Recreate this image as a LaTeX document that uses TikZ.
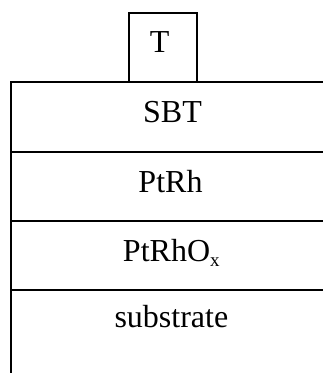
\documentclass[tikz,border=0pt]{standalone}
\usepackage{fontspec}
\setmainfont{Liberation Serif}
\begin{document}
\begin{tikzpicture}[x=1pt,y=-1pt,
  rule/.style={line width=1.8pt, line join=miter},
  layername/.style={inner sep=0pt, anchor=base, font=\fontsize{32}{36}\selectfont}]
  \useasboundingbox (0,0) rectangle (323,373);
  \clip (0,0) rectangle (323,373);

  % corners of the stack (it runs on past the right and bottom edges)
  \coordinate (stackTL) at (11,82);
  \coordinate (stackBL) at (11,380);
  \coordinate (stackTR) at (330,82);
  \coordinate (b1L) at (11,152);   \coordinate (b1R) at (330,152);
  \coordinate (b2L) at (11,221);   \coordinate (b2R) at (330,221);
  \coordinate (b3L) at (11,290);   \coordinate (b3R) at (330,290);

  % top electrode
  \coordinate (tBL) at (129,82);
  \coordinate (tTL) at (129,12.7);
  \coordinate (tTR) at (196.7,12.7);
  \coordinate (tBR) at (196.7,82);

  % outline of the layer stack
  \draw[rule] (stackTR) -- (stackTL) -- (stackBL);
  \draw[rule] (b1L) -- (b1R);
  \draw[rule] (b2L) -- (b2R);
  \draw[rule] (b3L) -- (b3R);
  \draw[rule] (tBL) -- (tTL) -- (tTR) -- (tBR);

  % labels
  \node[layername] (lblT) at (159.6,52.3) {T};
  \node[layername] (lblSBT) at (172.5,122.3) {SBT};
  \node[layername] (lblPtRh) at (170.5,192.7) {PtRh};
  \node[layername] (lblPtRhOx) at (171.3,261) {PtRhO\raisebox{-5pt}{\fontsize{19}{20}\selectfont x}};
  \node[layername] (lblSub) at (171.4,327.5) {substrate};
\end{tikzpicture}
\end{document}
